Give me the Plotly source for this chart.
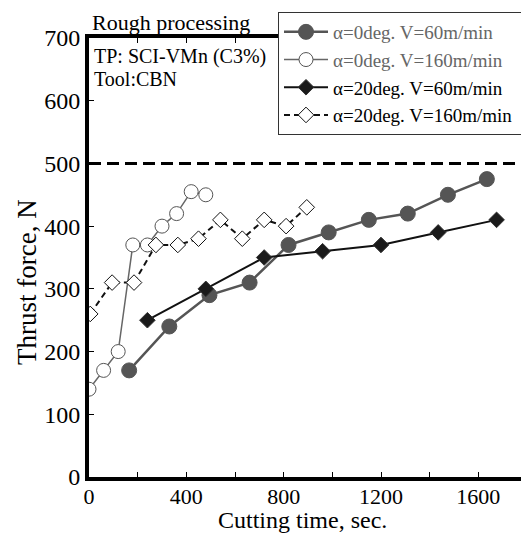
import plotly.graph_objects as go

# Data
t_a0_v60 = [165, 330, 495, 660, 820, 985, 1150, 1310, 1475, 1635]
f_a0_v60 = [170, 240, 290, 310, 370, 390, 410, 420, 450, 475]

t_a0_v160 = [0, 60, 120, 180, 240, 300, 360, 420, 480]
f_a0_v160 = [140, 170, 200, 370, 370, 400, 420, 455, 450]

t_a20_v60 = [240, 480, 720, 960, 1200, 1435, 1675]
f_a20_v60 = [250, 300, 350, 360, 370, 390, 410]

t_a20_v160 = [5, 95, 185, 275, 365, 450, 540, 630, 720, 810, 895]
f_a20_v160 = [260, 310, 310, 370, 370, 380, 410, 380, 410, 400, 430]

names = [
    '<span style="color:#666666">α=0deg. V=60m/min</span>&nbsp;',
    '<span style="color:#666666">α=0deg. V=160m/min</span>&nbsp;',
    'α=20deg. V=60m/min&nbsp;',
    'α=20deg. V=160m/min&nbsp;',
]

x_tickvals = [0, 200, 400, 600, 800, 1000, 1200, 1400, 1600, 1800]
x_ticktext = ['0', '', '400', '', '800', '', '1200', '', '1600', '']
limit_value = 500

FONT = "Liberation Serif"

fig = go.Figure()
fig.add_trace(go.Scatter(
    x=t_a0_v60, y=f_a0_v60, name=names[0], mode="lines+markers",
    line=dict(color="#555555", width=2.5),
    marker=dict(symbol="circle", size=15, color="#555555", line=dict(color="#555555", width=1)),
))
fig.add_trace(go.Scatter(
    x=t_a0_v160, y=f_a0_v160, name=names[1], mode="lines+markers",
    line=dict(color="#666666", width=1.5),
    marker=dict(symbol="circle", size=14, color="white", line=dict(color="#555555", width=1)),
))
fig.add_trace(go.Scatter(
    x=t_a20_v60, y=f_a20_v60, name=names[2], mode="lines+markers",
    line=dict(color="#111111", width=2),
    marker=dict(symbol="diamond", size=12, color="#1a1a1a", line=dict(color="#333333", width=1)),
))
fig.add_trace(go.Scatter(
    x=t_a20_v160, y=f_a20_v160, name=names[3], mode="lines+markers",
    line=dict(color="#111111", width=2, dash="6px,4px"),
    marker=dict(symbol="diamond", size=12, color="white", line=dict(color="#111111", width=1)),
))

fig.add_shape(type="line", xref="x", yref="y", x0=0, x1=1800, y0=limit_value, y1=limit_value,
              line=dict(color="black", width=3, dash="12px,6px"), layer="below")

# page body has an 8px margin: work in screen pixels and subtract it
OFF = 8
W, H = 529 - OFF, 536 - OFF
PL, PR, PT, PB = 89, 527, 38, 477   # plot area in screen pixels
L, T = PL - OFF, PT - OFF
R = W - (PR - OFF)
B = H - (PB - OFF)
pw, ph = W - L - R, H - T - B

def px_x(p):
    return (p - PL) / pw

def px_y(p):
    return (PB - p) / ph

fig.update_layout(
    width=W, height=H,
    margin=dict(l=L, r=R, t=T, b=B, autoexpand=False),
    paper_bgcolor="white", plot_bgcolor="white",
    font=dict(family=FONT, color="black", size=20),
    showlegend=True,
    legend=dict(
        x=px_x(278), y=px_y(12), xanchor="left", yanchor="top",
        bgcolor="white", bordercolor="#333333", borderwidth=1,
        font=dict(family=FONT, size=19, color="black"),
        itemwidth=44, tracegroupgap=0,
    ),
    xaxis=dict(
        range=[0, 1800], tickvals=x_tickvals, ticktext=x_ticktext,
        showline=True, linewidth=4, linecolor="black", mirror="ticks",
        ticks="inside", ticklen=5, tickwidth=1, tickcolor="black",
        showgrid=False, zeroline=False, automargin=False,
        ticklabelstandoff=-3,
        tickfont=dict(family=FONT, size=22, color="black"),
    ),
    yaxis=dict(
        range=[0, 700], dtick=100, tick0=0,
        showline=True, linewidth=4, linecolor="black", mirror="ticks",
        ticks="inside", ticklen=5, tickwidth=1, tickcolor="black",
        showgrid=False, zeroline=False, automargin=False,
        tickfont=dict(family=FONT, size=24, color="black"),
    ),
    annotations=[
        dict(text="Thrust force, N", xref="paper", yref="paper", x=px_x(27), y=px_y(282),
             xanchor="center", yanchor="middle", textangle=-90, showarrow=False,
             font=dict(family=FONT, size=27, color="black")),
        dict(text="Cutting time, sec.", xref="paper", yref="paper", x=px_x(302), y=px_y(535),
             xanchor="center", yanchor="bottom", showarrow=False,
             font=dict(family=FONT, size=24, color="black")),
        dict(text="Rough processing", xref="paper", yref="paper", x=px_x(90), y=px_y(23),
             xanchor="left", yanchor="middle", showarrow=False,
             font=dict(family=FONT, size=22, color="black")),
        dict(text="TP: SCI-VMn (C3%)", xref="paper", yref="paper", x=px_x(92), y=px_y(57),
             xanchor="left", yanchor="middle", showarrow=False,
             font=dict(family=FONT, size=20, color="black")),
        dict(text="Tool:CBN", xref="paper", yref="paper", x=px_x(92), y=px_y(79),
             xanchor="left", yanchor="middle", showarrow=False,
             font=dict(family=FONT, size=20, color="black")),
    ],
)

fig.write_html("out.html")
